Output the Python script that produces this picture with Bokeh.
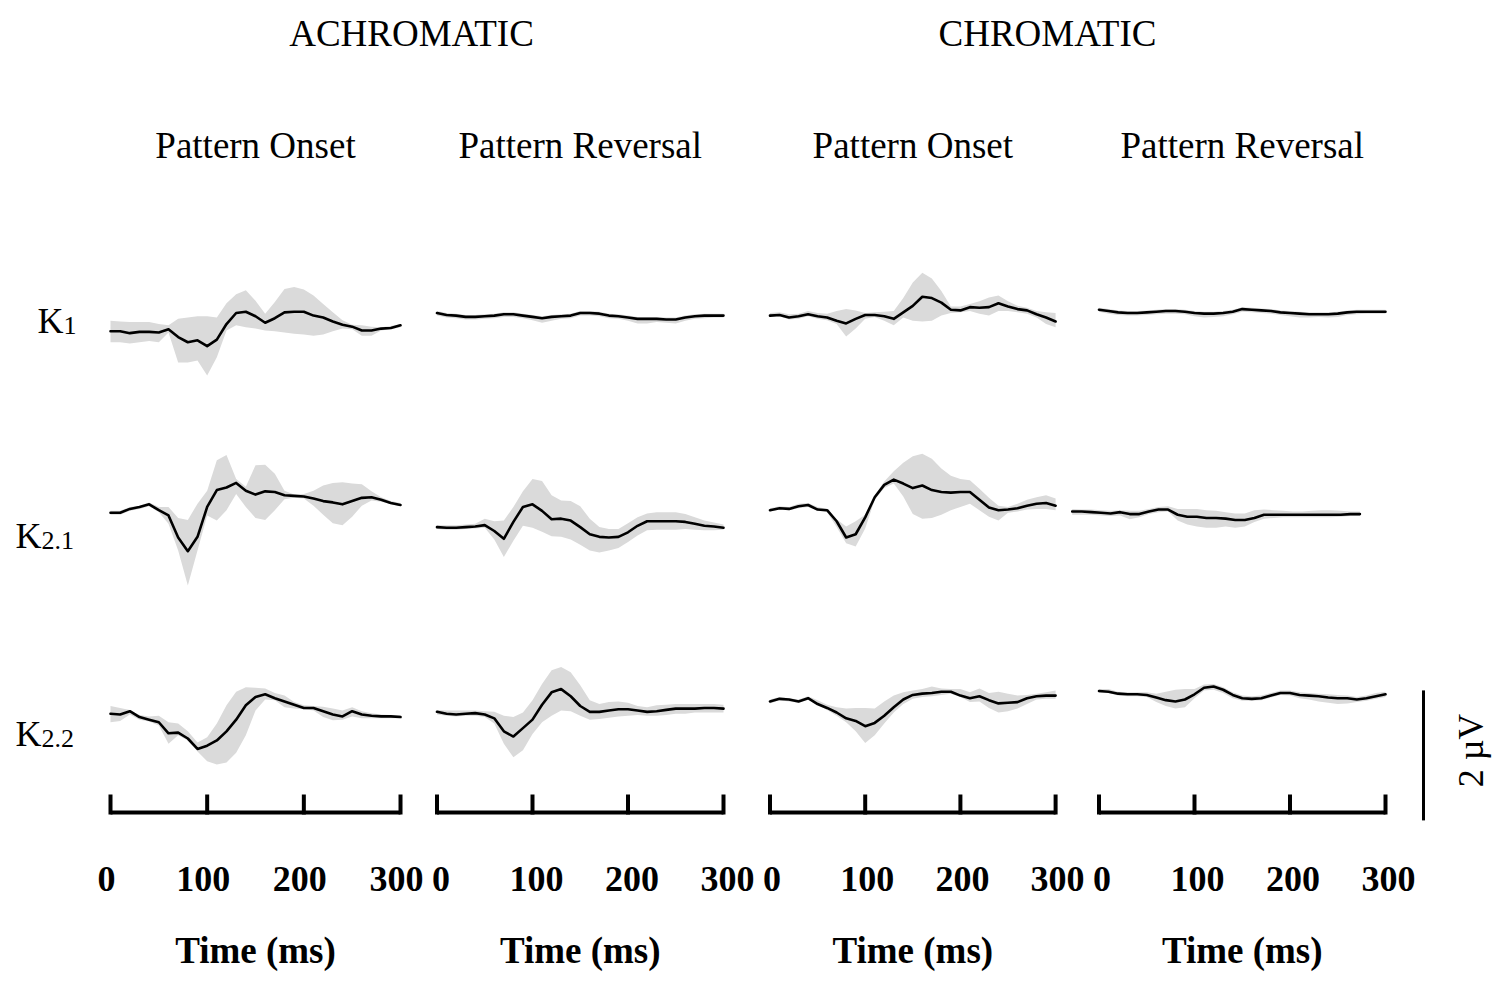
from math import pi
from bokeh.plotting import figure
from bokeh.models import Range1d
from bokeh.core.properties import value
from bokeh.embed import file_html
from bokeh.resources import INLINE

# ---------------- data (µV) ----------------
time_ms = [0, 10, 20, 30, 40, 50, 60, 70, 80, 90, 100, 110, 120, 130, 140, 150,
           160, 170, 180, 190, 200, 210, 220, 230, 240, 250, 260, 270, 280, 290, 300]
tick_values = [0, 100, 200, 300]
group_titles = ["ACHROMATIC", "CHROMATIC"]
column_titles = ["Pattern Onset", "Pattern Reversal", "Pattern Onset", "Pattern Reversal"]
row_names = [("K", "1"), ("K", "2.1"), ("K", "2.2")]
axis_title = "Time (ms)"
scale_bar_uv = 2.0
scale_bar_label = "2 \u00b5V"

# Achromatic, pattern onset
ach_on_k1_mean = [0.00, 0.00, -0.03, -0.01, -0.01, -0.02, 0.03, -0.09, -0.17, -0.14, -0.23, -0.13, 0.11, 0.28, 0.30, 0.23, 0.13, 0.20, 0.29, 0.30, 0.30, 0.24, 0.21, 0.15, 0.10, 0.07, 0.01, 0.01, 0.04, 0.05, 0.09]
ach_on_k1_hi = [0.16, 0.15, 0.14, 0.14, 0.14, 0.11, 0.09, 0.19, 0.21, 0.23, 0.23, 0.21, 0.43, 0.57, 0.63, 0.47, 0.27, 0.45, 0.65, 0.68, 0.64, 0.55, 0.42, 0.29, 0.17, 0.10, 0.09, 0.07, 0.06, 0.08, 0.11]
ach_on_k1_lo = [-0.17, -0.17, -0.19, -0.17, -0.15, -0.17, -0.02, -0.48, -0.48, -0.45, -0.68, -0.40, 0.01, 0.09, 0.06, 0.04, 0.01, 0.00, -0.02, -0.04, -0.05, -0.07, -0.05, 0.00, 0.04, 0.03, -0.07, -0.07, 0.01, 0.03, 0.06]

ach_on_k21_mean = [0.00, 0.00, 0.06, 0.09, 0.13, 0.04, -0.04, -0.38, -0.59, -0.37, 0.09, 0.35, 0.39, 0.46, 0.34, 0.28, 0.33, 0.32, 0.27, 0.26, 0.25, 0.22, 0.18, 0.16, 0.13, 0.18, 0.23, 0.24, 0.20, 0.15, 0.12]
ach_on_k21_hi = [0.03, 0.03, 0.09, 0.11, 0.16, 0.09, 0.09, -0.08, -0.11, 0.14, 0.34, 0.81, 0.89, 0.52, 0.40, 0.73, 0.74, 0.60, 0.34, 0.28, 0.29, 0.34, 0.42, 0.46, 0.47, 0.45, 0.44, 0.33, 0.24, 0.18, 0.15]
ach_on_k21_lo = [-0.03, -0.03, 0.03, 0.06, 0.10, 0.01, -0.17, -0.58, -1.12, -0.58, -0.04, -0.12, 0.04, 0.29, 0.09, -0.08, -0.11, 0.04, 0.21, 0.23, 0.22, 0.11, -0.03, -0.16, -0.19, -0.06, 0.11, 0.19, 0.17, 0.13, 0.10]

ach_on_k22_mean = [0.00, -0.01, 0.04, -0.05, -0.09, -0.13, -0.30, -0.29, -0.38, -0.54, -0.49, -0.41, -0.27, -0.09, 0.13, 0.26, 0.30, 0.24, 0.19, 0.14, 0.09, 0.09, 0.04, -0.01, -0.04, 0.04, -0.01, -0.03, -0.04, -0.04, -0.05]
ach_on_k22_hi = [0.12, 0.09, 0.06, -0.02, -0.04, -0.03, -0.13, -0.15, -0.27, -0.44, -0.36, -0.15, 0.13, 0.34, 0.41, 0.40, 0.39, 0.32, 0.28, 0.18, 0.13, 0.12, 0.11, 0.08, 0.05, 0.10, 0.04, 0.01, -0.01, -0.02, -0.02]
ach_on_k22_lo = [-0.13, -0.11, -0.01, -0.09, -0.12, -0.18, -0.46, -0.33, -0.41, -0.58, -0.73, -0.78, -0.75, -0.60, -0.33, 0.05, 0.22, 0.21, 0.10, 0.08, 0.07, 0.05, -0.05, -0.10, -0.09, -0.04, -0.07, -0.07, -0.07, -0.07, -0.07]

# Achromatic, pattern reversal
ach_rev_k1_mean = [0.28, 0.25, 0.24, 0.22, 0.22, 0.23, 0.24, 0.26, 0.26, 0.24, 0.22, 0.20, 0.22, 0.23, 0.24, 0.28, 0.28, 0.27, 0.24, 0.23, 0.21, 0.19, 0.19, 0.19, 0.18, 0.18, 0.21, 0.23, 0.24, 0.24, 0.24]
ach_rev_k1_hi = [0.31, 0.28, 0.27, 0.25, 0.25, 0.26, 0.27, 0.29, 0.29, 0.27, 0.25, 0.23, 0.25, 0.26, 0.27, 0.31, 0.31, 0.30, 0.27, 0.26, 0.24, 0.22, 0.22, 0.22, 0.21, 0.21, 0.24, 0.26, 0.27, 0.27, 0.27]
ach_rev_k1_lo = [0.24, 0.21, 0.20, 0.18, 0.18, 0.19, 0.20, 0.22, 0.22, 0.20, 0.17, 0.13, 0.16, 0.19, 0.20, 0.24, 0.24, 0.23, 0.20, 0.19, 0.16, 0.12, 0.12, 0.14, 0.13, 0.12, 0.16, 0.19, 0.20, 0.21, 0.21]

ach_rev_k21_mean = [-0.22, -0.23, -0.23, -0.22, -0.21, -0.19, -0.28, -0.40, -0.14, 0.09, 0.13, 0.03, -0.10, -0.09, -0.12, -0.22, -0.33, -0.37, -0.38, -0.37, -0.30, -0.20, -0.13, -0.13, -0.13, -0.13, -0.14, -0.17, -0.20, -0.21, -0.23]
ach_rev_k21_hi = [-0.19, -0.19, -0.19, -0.18, -0.17, -0.09, -0.13, -0.12, 0.09, 0.33, 0.52, 0.49, 0.27, 0.19, 0.18, 0.10, -0.09, -0.22, -0.25, -0.25, -0.16, -0.07, -0.01, 0.01, 0.01, 0.01, -0.02, -0.07, -0.12, -0.15, -0.18]
ach_rev_k21_lo = [-0.25, -0.26, -0.26, -0.25, -0.24, -0.23, -0.41, -0.68, -0.43, -0.20, -0.23, -0.29, -0.36, -0.37, -0.41, -0.49, -0.58, -0.61, -0.58, -0.54, -0.45, -0.35, -0.27, -0.26, -0.26, -0.26, -0.25, -0.26, -0.27, -0.27, -0.26]

ach_rev_k22_mean = [0.03, 0.00, -0.01, 0.00, 0.01, -0.01, -0.07, -0.27, -0.35, -0.22, -0.09, 0.14, 0.33, 0.38, 0.27, 0.12, 0.03, 0.03, 0.05, 0.07, 0.07, 0.05, 0.03, 0.04, 0.06, 0.08, 0.08, 0.08, 0.09, 0.09, 0.08]
ach_rev_k22_hi = [0.06, 0.05, 0.05, 0.05, 0.05, 0.04, 0.03, -0.03, -0.05, 0.02, 0.21, 0.46, 0.67, 0.72, 0.64, 0.44, 0.21, 0.15, 0.18, 0.19, 0.17, 0.12, 0.10, 0.13, 0.14, 0.15, 0.15, 0.15, 0.15, 0.15, 0.14]
ach_rev_k22_lo = [-0.01, -0.03, -0.04, -0.03, -0.03, -0.05, -0.15, -0.46, -0.67, -0.56, -0.31, -0.13, -0.03, 0.05, 0.04, -0.03, -0.09, -0.08, -0.06, -0.04, -0.03, -0.02, -0.03, -0.03, -0.02, 0.00, 0.00, 0.02, 0.02, 0.02, 0.02]

# Chromatic, pattern onset
chr_on_k1_mean = [0.24, 0.25, 0.21, 0.23, 0.26, 0.23, 0.21, 0.16, 0.12, 0.19, 0.25, 0.25, 0.23, 0.19, 0.29, 0.39, 0.53, 0.51, 0.44, 0.33, 0.32, 0.37, 0.36, 0.37, 0.43, 0.38, 0.34, 0.32, 0.26, 0.21, 0.15]
chr_on_k1_hi = [0.28, 0.29, 0.26, 0.27, 0.31, 0.28, 0.27, 0.31, 0.34, 0.32, 0.28, 0.29, 0.30, 0.31, 0.51, 0.75, 0.90, 0.81, 0.62, 0.38, 0.38, 0.42, 0.46, 0.52, 0.55, 0.46, 0.39, 0.36, 0.31, 0.29, 0.28]
chr_on_k1_lo = [0.22, 0.23, 0.18, 0.19, 0.23, 0.19, 0.17, 0.11, -0.08, 0.04, 0.19, 0.22, 0.16, 0.09, 0.21, 0.16, 0.15, 0.16, 0.24, 0.28, 0.29, 0.31, 0.27, 0.24, 0.31, 0.31, 0.29, 0.27, 0.21, 0.11, 0.06]

chr_on_k21_mean = [0.04, 0.07, 0.06, 0.10, 0.12, 0.05, 0.04, -0.13, -0.38, -0.33, -0.07, 0.24, 0.43, 0.51, 0.45, 0.38, 0.42, 0.35, 0.32, 0.31, 0.32, 0.32, 0.20, 0.08, 0.04, 0.05, 0.07, 0.11, 0.14, 0.15, 0.11]
chr_on_k21_hi = [0.07, 0.10, 0.09, 0.14, 0.15, 0.09, 0.06, -0.10, -0.21, -0.13, -0.03, 0.27, 0.48, 0.64, 0.77, 0.87, 0.91, 0.83, 0.68, 0.57, 0.52, 0.50, 0.37, 0.23, 0.11, 0.09, 0.14, 0.20, 0.24, 0.27, 0.22]
chr_on_k21_lo = [0.02, 0.05, 0.04, 0.07, 0.09, 0.03, 0.01, -0.22, -0.47, -0.52, -0.24, 0.20, 0.38, 0.45, 0.25, -0.02, -0.09, -0.08, -0.03, 0.04, 0.09, 0.14, 0.04, -0.06, -0.12, 0.00, 0.02, 0.05, 0.06, 0.06, 0.04]

chr_on_k22_mean = [0.19, 0.23, 0.22, 0.19, 0.24, 0.15, 0.09, 0.02, -0.07, -0.11, -0.19, -0.14, -0.03, 0.10, 0.22, 0.29, 0.31, 0.32, 0.34, 0.34, 0.28, 0.24, 0.27, 0.21, 0.16, 0.17, 0.18, 0.24, 0.27, 0.28, 0.28]
chr_on_k22_hi = [0.22, 0.26, 0.24, 0.22, 0.27, 0.21, 0.14, 0.10, 0.08, 0.09, 0.09, 0.08, 0.19, 0.28, 0.33, 0.36, 0.38, 0.42, 0.39, 0.38, 0.38, 0.33, 0.39, 0.32, 0.34, 0.31, 0.28, 0.29, 0.31, 0.33, 0.36]
chr_on_k22_lo = [0.16, 0.21, 0.19, 0.17, 0.22, 0.13, 0.06, -0.03, -0.13, -0.27, -0.45, -0.33, -0.15, 0.02, 0.15, 0.23, 0.26, 0.27, 0.29, 0.31, 0.26, 0.18, 0.19, 0.09, 0.02, 0.04, 0.08, 0.15, 0.22, 0.23, 0.23]

# Chromatic, pattern reversal
chr_rev_k1_mean = [0.33, 0.31, 0.29, 0.28, 0.28, 0.29, 0.30, 0.31, 0.31, 0.30, 0.28, 0.27, 0.27, 0.28, 0.30, 0.34, 0.33, 0.32, 0.31, 0.29, 0.28, 0.27, 0.26, 0.26, 0.26, 0.27, 0.29, 0.30, 0.30, 0.30, 0.30]
chr_rev_k1_hi = [0.36, 0.34, 0.32, 0.31, 0.31, 0.32, 0.33, 0.34, 0.34, 0.33, 0.31, 0.30, 0.30, 0.31, 0.33, 0.37, 0.36, 0.35, 0.34, 0.32, 0.31, 0.30, 0.29, 0.29, 0.29, 0.30, 0.32, 0.33, 0.33, 0.33, 0.33]
chr_rev_k1_lo = [0.30, 0.27, 0.25, 0.24, 0.24, 0.25, 0.26, 0.27, 0.27, 0.26, 0.23, 0.21, 0.22, 0.23, 0.26, 0.30, 0.29, 0.28, 0.27, 0.25, 0.23, 0.21, 0.21, 0.22, 0.21, 0.22, 0.25, 0.26, 0.27, 0.27, 0.27]

chr_rev_k21_mean = [0.02, 0.02, 0.01, 0.00, -0.01, 0.01, -0.02, -0.02, 0.02, 0.05, 0.05, -0.03, -0.06, -0.06, -0.08, -0.08, -0.09, -0.11, -0.11, -0.08, -0.03, -0.03, -0.03, -0.03, -0.03, -0.03, -0.03, -0.03, -0.03, -0.02, -0.02]
chr_rev_k21_hi = [0.06, 0.05, 0.05, 0.04, 0.03, 0.04, 0.03, 0.03, 0.06, 0.09, 0.10, 0.06, 0.06, 0.06, 0.04, 0.03, 0.01, -0.01, -0.01, 0.04, 0.05, 0.04, 0.03, 0.02, 0.02, 0.03, 0.04, 0.04, 0.03, 0.02, 0.02]
chr_rev_k21_lo = [-0.03, -0.03, -0.03, -0.04, -0.05, -0.04, -0.10, -0.07, -0.02, 0.01, 0.02, -0.12, -0.18, -0.21, -0.23, -0.23, -0.21, -0.23, -0.21, -0.14, -0.09, -0.08, -0.07, -0.07, -0.07, -0.07, -0.07, -0.07, -0.06, -0.05, -0.05]

chr_rev_k22_mean = [0.35, 0.34, 0.31, 0.30, 0.30, 0.29, 0.25, 0.21, 0.19, 0.22, 0.30, 0.40, 0.42, 0.37, 0.29, 0.24, 0.23, 0.24, 0.28, 0.32, 0.32, 0.29, 0.28, 0.27, 0.25, 0.24, 0.24, 0.22, 0.24, 0.27, 0.30]
chr_rev_k22_hi = [0.38, 0.38, 0.34, 0.33, 0.33, 0.33, 0.31, 0.34, 0.37, 0.38, 0.38, 0.45, 0.46, 0.41, 0.33, 0.28, 0.27, 0.28, 0.32, 0.36, 0.36, 0.33, 0.32, 0.31, 0.30, 0.29, 0.28, 0.26, 0.28, 0.32, 0.34]
chr_rev_k22_lo = [0.32, 0.32, 0.28, 0.27, 0.27, 0.26, 0.18, 0.12, 0.08, 0.10, 0.24, 0.36, 0.37, 0.32, 0.24, 0.20, 0.20, 0.21, 0.25, 0.29, 0.28, 0.24, 0.22, 0.19, 0.17, 0.15, 0.16, 0.18, 0.20, 0.23, 0.26]

# (column key, row key, mean, lower, upper)
panels = [
    ("c0", "r0", ach_on_k1_mean, ach_on_k1_lo, ach_on_k1_hi),
    ("c1", "r0", ach_rev_k1_mean, ach_rev_k1_lo, ach_rev_k1_hi),
    ("c2", "r0", chr_on_k1_mean, chr_on_k1_lo, chr_on_k1_hi),
    ("c3", "r0", chr_rev_k1_mean, chr_rev_k1_lo, chr_rev_k1_hi),
    ("c0", "r1", ach_on_k21_mean, ach_on_k21_lo, ach_on_k21_hi),
    ("c1", "r1", ach_rev_k21_mean, ach_rev_k21_lo, ach_rev_k21_hi),
    ("c2", "r1", chr_on_k21_mean, chr_on_k21_lo, chr_on_k21_hi),
    ("c3s", "r1", chr_rev_k21_mean, chr_rev_k21_lo, chr_rev_k21_hi),
    ("c0", "r2", ach_on_k22_mean, ach_on_k22_lo, ach_on_k22_hi),
    ("c1", "r2", ach_rev_k22_mean, ach_rev_k22_lo, ach_rev_k22_hi),
    ("c2", "r2", chr_on_k22_mean, chr_on_k22_lo, chr_on_k22_hi),
    ("c3", "r2", chr_rev_k22_mean, chr_rev_k22_lo, chr_rev_k22_hi),
]

# ---------------- layout (screen pixel coordinates) ----------------
W, H = 1495, 984
PX0, PX1 = 0, W
PY_TOP, PY_BOT = 0, H
col_origin = {"c0": 110.0, "c1": 436.5, "c2": 769.5, "c3": 1098.5, "c3s": 1071.7}
col_px_per_ms = {"c0": 0.9667, "c1": 0.955, "c2": 0.952, "c3": 0.955, "c3s": 0.959}
tick_label_dx = {"c0": -4, "c1": 4, "c2": 2, "c3": 3}
row_zero_px = {"r0": 330.7, "r1": 512.3, "r2": 713.3}
px_per_uv = 65.0

FONT = value("Liberation Serif")
BAND = "#dadada"

p = figure(width=W, height=H, x_range=Range1d(PX0, PX1), y_range=Range1d(PY_BOT, PY_TOP),
           output_backend="svg", toolbar_location=None, min_border=0,
           x_axis_type=None, y_axis_type=None, outline_line_color=None,
           background_fill_color="white", border_fill_color="white")
p.xgrid.visible = False
p.ygrid.visible = False

p.extra_x_ranges = {k: Range1d((PX0 - col_origin[k]) / col_px_per_ms[k],
                               (PX1 - col_origin[k]) / col_px_per_ms[k]) for k in col_origin}
p.extra_y_ranges = {k: Range1d((row_zero_px[k] - PY_BOT) / px_per_uv,
                               (row_zero_px[k] - PY_TOP) / px_per_uv) for k in row_zero_px}

for ck, rk, mean, lo, hi in panels:
    p.varea(x=time_ms, y1=lo, y2=hi, fill_color=BAND, x_range_name=ck, y_range_name=rk)
    p.line(x=time_ms, y=mean, line_color="black", line_width=2.6, line_join="round",
           line_cap="round", x_range_name=ck, y_range_name=rk)

# x axes drawn per column
AXIS_Y = 812
for i, ck in enumerate(["c0", "c1", "c2", "c3"]):
    p.segment(x0=[tick_values[0]], x1=[tick_values[-1]], y0=[AXIS_Y], y1=[AXIS_Y],
              line_color="black", line_width=4, x_range_name=ck)
    p.segment(x0=tick_values, x1=tick_values, y0=[AXIS_Y + 2] * 4, y1=[AXIS_Y - 18] * 4,
              line_color="black", line_width=4, x_range_name=ck)
    p.text(x=tick_values, y=[878] * 4, text=[str(v) for v in tick_values],
           x_offset=tick_label_dx[ck],
           text_align="center", text_baseline="middle", text_font=FONT,
           text_font_size="36px", text_font_style="bold", text_color="black", x_range_name=ck)
    mid = (tick_values[0] + tick_values[-1]) / 2
    p.text(x=[mid], y=[950], text=[axis_title], text_align="center", text_baseline="middle",
           text_font=FONT, text_font_size="37px", text_font_style="bold", text_color="black",
           x_range_name=ck)
    p.text(x=[mid], y=[145], text=[column_titles[i]], text_align="center",
           text_baseline="middle", text_font=FONT, text_font_size="37px",
           text_color="black", x_range_name=ck)

# group titles
p.text(x=[411, 1047], y=[33, 33], text=group_titles, text_align="center",
       text_baseline="middle", text_font=FONT, text_font_size="37px", text_color="black")

# row labels
row_label_x = [37, 15, 15]
row_label_y = [320, 535, 733]
sub_dx = [26, 26, 26]
for (k, sub), lx, ly, dx in zip(row_names, row_label_x, row_label_y, sub_dx):
    p.text(x=[lx], y=[ly], text=[k], text_align="left", text_baseline="middle",
           text_font=FONT, text_font_size="36px", text_color="black")
    p.text(x=[lx + dx], y=[ly + 5], text=[sub], text_align="left", text_baseline="middle",
           text_font=FONT, text_font_size="26px", text_color="black")

# scale bar (2 µV in the bottom row's scale)
bar_start = -1.64
p.segment(x0=[1423], x1=[1423], y0=[bar_start], y1=[bar_start + scale_bar_uv],
          line_color="black", line_width=3, y_range_name="r2")
p.text(x=[1470], y=[750], text=[scale_bar_label], angle=pi / 2, text_align="center",
       text_baseline="middle", text_font=FONT, text_font_size="36px", text_color="black")

open("out.html", "w").write(file_html(p, INLINE))
